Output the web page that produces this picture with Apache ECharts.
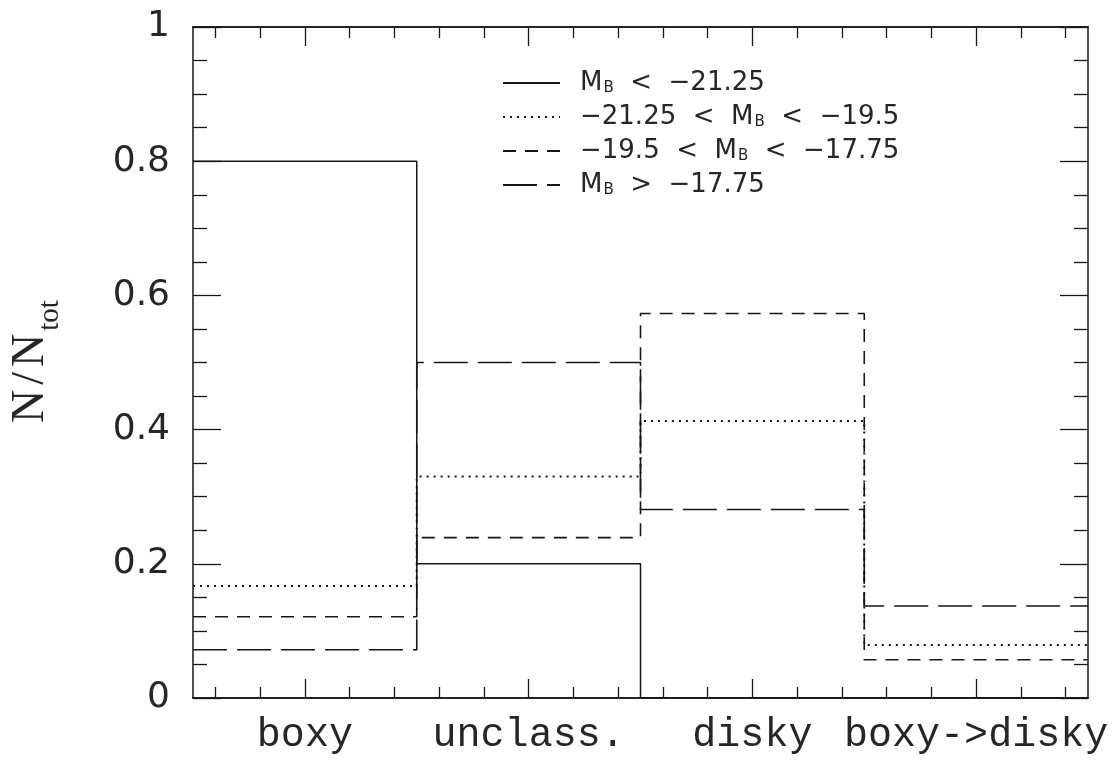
<!DOCTYPE html>
<html>
<head>
<meta charset="utf-8">
<script src="https://cdn.jsdelivr.net/npm/echarts@6/dist/echarts.min.js"></script>
<style>
  html, body { margin: 0; padding: 0; background: #fff; }
  #chart { width: 1113px; height: 767px; }
</style>
</head>
<body>
<div id="chart"></div>
<script>
// Isophote-shape classes along the x axis
const categories = ['boxy', 'unclass.', 'disky', 'boxy->disky'];

// Absolute-magnitude bins (legend entries)
const binNames = ['M_B < −21.25', '−21.25 < M_B < −19.5', '−19.5 < M_B < −17.75', 'M_B > −17.75'];

// Fraction N/N_tot of each bin falling in each class
const fracBright   = [0.800, 0.200, 0.000, 0.000];
const fracMid      = [0.167, 0.330, 0.413, 0.079];
const fracFaint    = [0.121, 0.239, 0.573, 0.057];
const fracFaintest = [0.072, 0.500, 0.281, 0.137];

const INK = '#161616';
const TEXT = '#262626';

// Histogram outline: one flat step per class, edges half-way between class centres
function steps(values) {
  const pts = values.map((v, i) => [i + 0.5, v]);
  pts.push([values.length + 0.5, values[values.length - 1]]);
  return pts;
}

// Tick positions: major at class centres, minor every 0.2 in between
const majorTicks = categories.map((_, i) => i + 1);
const minorTicks = [];
majorTicks.forEach(c => [-0.4, -0.2, 0.2, 0.4].forEach(d => minorTicks.push(+(c + d).toFixed(1))));

function xAxisDef(position, ticks, len, withLabels) {
  return {
    type: 'value', min: 0.5, max: 4.5, position: position,
    axisLine: { show: true, lineStyle: { color: INK, width: 1.5 } },
    axisTick: { show: true, inside: true, length: len, customValues: ticks,
                lineStyle: { color: INK, width: 1.3 } },
    axisLabel: withLabels ? {
      show: true, customValues: majorTicks, margin: 17,
      fontFamily: 'Liberation Mono', fontSize: 40, color: TEXT,
      formatter: v => categories[Math.round(v) - 1] || ''
    } : { show: false },
    splitLine: { show: false }
  };
}

function yAxisDef(position, withLabels) {
  const ax = {
    type: 'value', min: 0, max: 1, interval: 0.2, position: position,
    axisLine: { show: true, lineStyle: { color: INK, width: 1.5 } },
    axisTick: { show: true, inside: true, length: 28, lineStyle: { color: INK, width: 1.3 } },
    minorTick: { show: true, splitNumber: 4, length: 14, lineStyle: { color: INK, width: 1.3 } },
    axisLabel: withLabels ? {
      show: true, margin: 23, fontFamily: 'DejaVu Sans', fontSize: 36, color: TEXT
    } : { show: false },
    splitLine: { show: false }
  };
  if (withLabels) {
    ax.name = '{n|N}{sl|/}{n|N}{s|tot}';
    ax.nameLocation = 'middle';
    ax.nameRotate = 90;
    ax.nameGap = 128;
    ax.nameTextStyle = {
      padding: [0, 0, 0, 2],
      rich: {
        n: { fontFamily: 'Liberation Serif', fontSize: 46, color: TEXT },
        sl: { fontFamily: 'Liberation Serif', fontSize: 46, color: TEXT, padding: [0, 5, 0, 5] },
        s: { fontFamily: 'Liberation Serif', fontSize: 29, color: TEXT, padding: [40, 0, 0, 3] }
      }
    };
  }
  return ax;
}

const dashStyles = [
  { type: 'solid', width: 1.5 },
  { type: [2, 5], width: 2 },
  { type: [13, 9], width: 1.6 },
  { type: [34, 10], width: 1.6 }
];
const dataSets = [fracBright, fracMid, fracFaint, fracFaintest];

const series = binNames.map((name, k) => ({
  name: name,
  type: 'line',
  step: 'end',
  xAxisIndex: 0,
  yAxisIndex: 0,
  symbol: 'none',
  silent: true,
  animation: false,
  lineStyle: Object.assign({ color: INK, cap: 'butt' }, dashStyles[k]),
  itemStyle: { color: INK },
  data: steps(dataSets[k])
}));

// Legend label with the subscript B on M
function legendText(name) {
  return name.split(' ').map(w => w === 'M_B' ? '{m|M}{b|B}' : '{t|' + w + '}').join('{t|  }');
}

const option = {
  backgroundColor: '#fff',
  animation: false,
  grid: { left: 193, right: 25, top: 27, bottom: 69, show: false, outerBoundsMode: 'none', containLabel: false },
  xAxis: [
    xAxisDef('bottom', minorTicks, 11, true),
    xAxisDef('bottom', majorTicks, 19, false),
    xAxisDef('top', minorTicks, 11, false),
    xAxisDef('top', majorTicks, 19, false)
  ],
  yAxis: [yAxisDef('left', true), yAxisDef('right', false)],
  legend: {
    orient: 'vertical',
    left: 497, top: 63,
    itemWidth: 57, itemHeight: 14, itemGap: 4,
    selectedMode: false,
    itemStyle: { opacity: 0 },
    formatter: legendText,
    textStyle: {
      padding: [0, 0, 0, 15],
      lineHeight: 30,
      rich: {
        t: { fontFamily: 'DejaVu Sans', fontSize: 26, color: TEXT, lineHeight: 30 },
        m: { fontFamily: 'DejaVu Sans', fontSize: 26, color: TEXT, lineHeight: 30 },
        b: { fontFamily: 'DejaVu Sans', fontSize: 15, color: TEXT, lineHeight: 30, padding: [10, 0, 0, 1] }
      }
    },
    data: binNames
  },
  series: series
};

const chart = echarts.init(document.getElementById('chart'), null, { renderer: 'canvas' });
chart.setOption(option);
</script>
</body>
</html>
